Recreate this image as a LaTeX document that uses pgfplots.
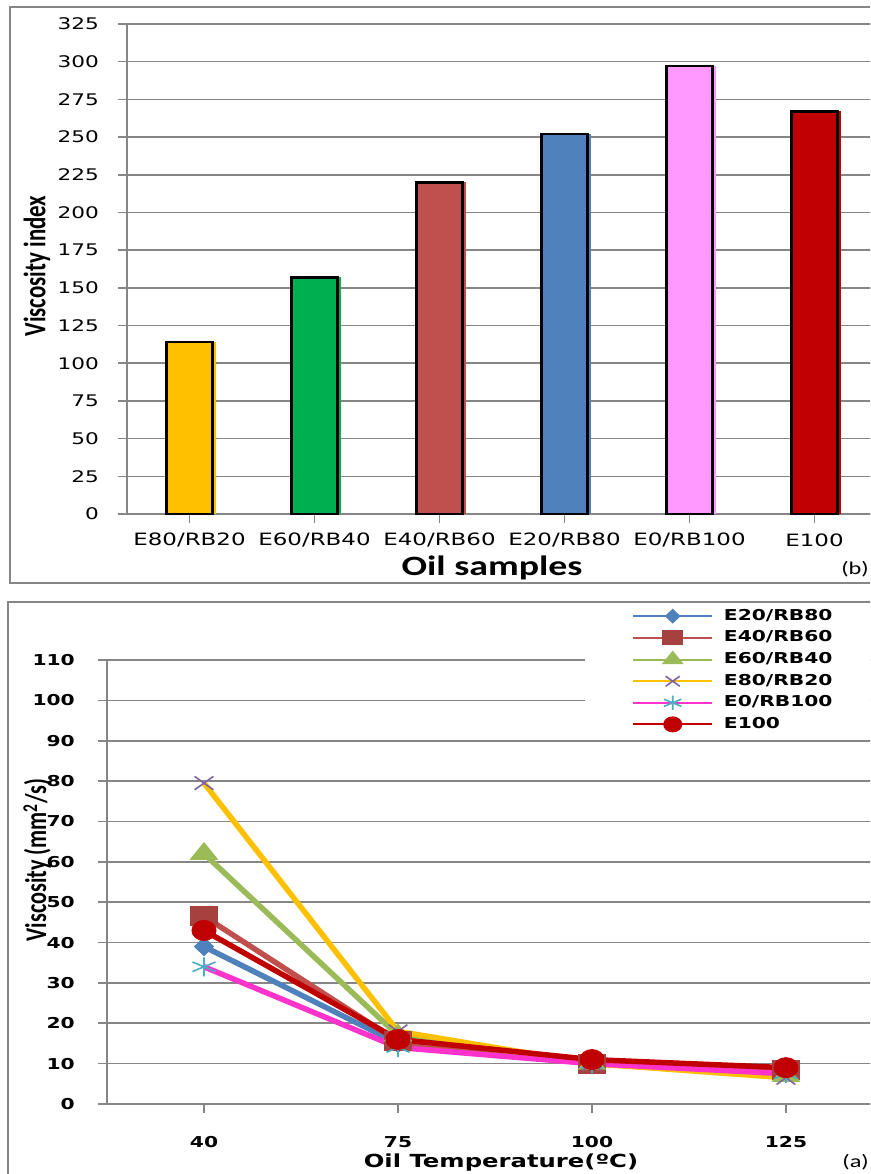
\documentclass[border=0pt]{standalone}
\usepackage{fontspec}
\usepackage{pgfplots}
\pgfplotsset{compat=1.18}
\newfontfamily\tickfont{DejaVu Sans}[FakeStretch=1.35]
\newfontfamily\calib{Carlito}[FakeStretch=1.35]
\newfontfamily\calibrot{Carlito}[FakeStretch=0.74]
\definecolor{gridgray}{RGB}{134,134,134}
\definecolor{cgold}{HTML}{FFC000}
\definecolor{cgreen}{HTML}{00B050}
\definecolor{cbrick}{HTML}{C0504D}
\definecolor{cblue}{HTML}{4F81BD}
\definecolor{cpink}{HTML}{FF99FF}
\definecolor{cdred}{HTML}{C00000}
\definecolor{colive}{HTML}{9BBB59}
\definecolor{cpurple}{HTML}{8064A2}
\definecolor{cmag}{HTML}{FF33CC}
\definecolor{cteal}{HTML}{4BACC6}
\definecolor{csq}{HTML}{A5423F}
\pgfplotsset{
  mybar/.style={ybar, bar width=46pt, bar shift=0pt, draw=black, line width=2.5pt},
  myshadow/.style={ybar, bar width=46pt, bar shift=3.5pt, draw=none},
  myline/.style={line width=5.5pt},
}
\begin{document}
\begin{tikzpicture}
\useasboundingbox (0,0) rectangle (870pt,-1174pt);
\clip (0,0) rectangle (870pt,-1174pt);
\fill[white] (0,0) rectangle (870pt,-1174pt);

% ---------------- top: viscosity index bars ----------------
\begin{axis}[
  at={(127pt,-514pt)}, anchor=south west, scale only axis,
  width=750pt, height=490pt,
  xmin=-0.5, xmax=5.5, ymin=0, ymax=325,
  axis x line=bottom, axis y line=left,
  axis line style={gridgray, line width=2pt, -},
  ytick={0,25,...,325}, ymajorgrids,
  major grid style={gridgray, line width=1.6pt},
  xtick={0,...,5},
  xticklabels={E80/RB20,E60/RB40,E40/RB60,E20/RB80,E0/RB100,E100},
  tick align=outside, major tick length=9pt,
  tick style={gridgray, line width=1.6pt},
  /pgf/number format/assume math mode=true,
  yticklabel style={font=\tickfont\fontsize{16}{16}\selectfont, anchor=east, inner sep=0pt, xshift=-19pt},
  xticklabel style={font=\tickfont\fontsize{17}{17}\selectfont, anchor=center, inner sep=0pt, yshift=-17pt},
  ylabel={\calibrot\bfseries\fontsize{31}{31}\selectfont Viscosity index},
  every axis y label/.style={at={(axis description cs:-0.12,0.506)}, anchor=center, rotate=90},
  xlabel={\calib\bfseries\fontsize{28}{28}\selectfont Oil samples},
  every axis x label/.style={at={(axis description cs:0.4867,-0.110)}, anchor=center},
]
\addplot[myshadow, fill=cgold] coordinates {(0,114)};
\addplot[mybar, fill=cgold] coordinates {(0,114)};
\addplot[myshadow, fill=cgreen] coordinates {(1,157)};
\addplot[mybar, fill=cgreen] coordinates {(1,157)};
\addplot[myshadow, fill=cbrick] coordinates {(2,220)};
\addplot[mybar, fill=cbrick] coordinates {(2,220)};
\addplot[myshadow, fill=cblue] coordinates {(3,252)};
\addplot[mybar, fill=cblue] coordinates {(3,252)};
\addplot[myshadow, fill=cpink] coordinates {(4,297)};
\addplot[mybar, fill=cpink] coordinates {(4,297)};
\addplot[myshadow, fill=cdred] coordinates {(5,267)};
\addplot[mybar, fill=cdred] coordinates {(5,267)};
\end{axis}

% ---------------- bottom: viscosity vs temperature ----------------
\begin{axis}[
  at={(107pt,-1104pt)}, anchor=south west, scale only axis,
  width=776pt, height=444pt,
  xmin=-0.5, xmax=3.5, ymin=0, ymax=110,
  axis x line=bottom, axis y line=left,
  axis line style={gridgray, line width=2pt, -},
  ytick={0,10,...,110}, ymajorgrids,
  major grid style={gridgray, line width=1.6pt},
  xtick={0,...,3}, xticklabels={40,75,100,125},
  tick align=outside, major tick length=9pt,
  tick style={gridgray, line width=1.6pt},
  /pgf/number format/assume math mode=true,
  yticklabel style={font=\tickfont\bfseries\fontsize{15}{15}\selectfont, anchor=east, inner sep=0pt, xshift=-23pt},
  xticklabel style={font=\tickfont\bfseries\fontsize{15}{15}\selectfont, anchor=center, inner sep=0pt, yshift=-29pt},
  ylabel={\calibrot\bfseries\fontsize{30}{30}\selectfont Viscosity (mm\textsuperscript{2}/s)},
  every axis y label/.style={at={(axis description cs:-0.0902,0.5495)}, anchor=center, rotate=90},
  xlabel={\tickfont\bfseries\fontsize{18}{18}\selectfont Oil Temperature(ºC)},
  every axis x label/.style={at={(axis description cs:0.5077,-0.1329)}, anchor=center},
  legend style={at={(axis description cs:0.616,1.124)}, anchor=north west,
    draw=none, fill=white, inner xsep=47pt, inner ysep=3pt,
    font=\tickfont\bfseries\fontsize{15}{15}\selectfont,
    row sep=5.6pt,
    nodes={inner ysep=1pt, inner xsep=5pt, text height=11pt, text depth=3pt}},
  legend cell align=left,
  legend image code/.code={
    \draw[line width=2pt, mark=none] (0pt,0pt) -- (79pt,0pt);
    \path (83pt,0pt);
    \begin{scope}[every mark/.append style={scale=0.75}]
      \draw[line width=2pt] plot coordinates {(39.5pt,0pt)};
    \end{scope}
  },
]
\addplot[myline, color=cblue, mark=diamond*, mark size=9pt,
  mark options={fill=cblue, draw=cblue, line width=1pt, xscale=1.4}]
  coordinates {(0,39) (1,15) (2,10) (3,8)};
\addlegendentry{E20/RB80}
\addplot[myline, color=cbrick, mark=square*, mark size=9.5pt,
  mark options={fill=csq, draw=csq, line width=1pt, xscale=1.4}]
  coordinates {(0,46.5) (1,15.5) (2,10) (3,8.5)};
\addlegendentry{E40/RB60}
\addplot[myline, color=colive, mark=triangle*, mark size=11pt,
  mark options={fill=colive, draw=colive, line width=1pt, xscale=1.4}]
  coordinates {(0,62) (1,17) (2,10) (3,7)};
\addlegendentry{E60/RB40}
\addplot[myline, color=cgold, mark=x, mark size=9.5pt,
  mark options={draw=cpurple, line width=1.6pt, xscale=1.4}]
  coordinates {(0,79.5) (1,18) (2,10) (3,6.5)};
\addlegendentry{E80/RB20}
\addplot[myline, color=cmag, mark=asterisk, mark size=9.5pt,
  mark options={draw=cteal, line width=1.6pt, xscale=1.4}]
  coordinates {(0,34) (1,14) (2,10) (3,7.5)};
\addlegendentry{E0/RB100}
\addplot[myline, color=cdred, mark=*, mark size=10pt,
  mark options={fill=cdred, draw=cdred, line width=1pt, xscale=1.2}]
  coordinates {(0,43) (1,16) (2,11) (3,9)};
\addlegendentry{E100}
\end{axis}

% chart frames and panel tags
\draw[gridgray, line width=2.2pt] (10pt,-7pt) rectangle (890pt,-583pt);
\draw[gridgray, line width=2.2pt] (8pt,-602pt) rectangle (890pt,-1190pt);
\node[font=\calib\fontsize{18}{18}\selectfont, anchor=east, inner sep=0pt] at (869pt,-569pt) {(b)};
\node[font=\calib\fontsize{18}{18}\selectfont, anchor=east, inner sep=0pt] at (869pt,-1162pt) {(a)};
\end{tikzpicture}
\end{document}
